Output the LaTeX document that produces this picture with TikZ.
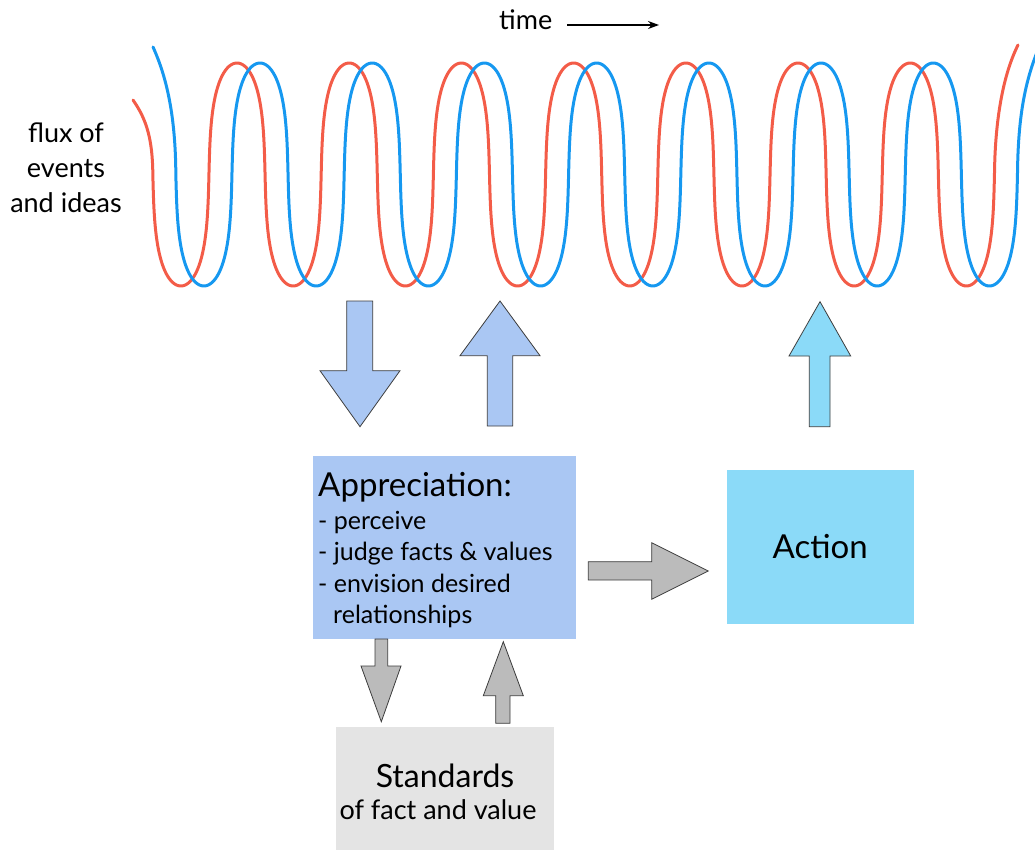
\documentclass[tikz,border=0pt]{standalone}
\usepackage{fontspec}
\setmainfont{Lato}
\usetikzlibrary{arrows.meta}

\definecolor{appblue}{RGB}{170,199,243}
\definecolor{actcyan}{RGB}{139,218,248}
\definecolor{stdgray}{RGB}{228,228,228}
\definecolor{arrgray}{RGB}{187,187,187}
\definecolor{wavered}{RGB}{243,92,72}
\definecolor{waveblue}{RGB}{22,152,240}
\definecolor{edgegray}{RGB}{60,60,60}

\newcommand{\fsz}[2]{\fontsize{#1}{#2}\selectfont}

\begin{document}
\begin{tikzpicture}[x=1pt, y=-1pt,
  wave/.style={line width=3pt, line cap=round, line join=round},
  blockarrow/.style={draw=edgegray, line width=0.8pt, line join=miter},
  box/.style={rectangle, inner sep=0pt, anchor=north west},
  txt/.style={inner sep=0pt, anchor=base west},
]
\useasboundingbox (0,0) rectangle (1035,850);

% time axis
\node[txt, font=\fsz{27}{30}] (time) at (499,30) {time};
\coordinate (timestart) at (567,25);
\coordinate (timeend) at (659,25);
\draw[line width=1.1pt, -{Stealth[length=11pt,width=8pt]}] (timestart) -- (timeend);

% left label
\node[align=center, font=\fsz{27}{35}, inner sep=0pt] (flux) at (66,168)
  {flux of\\events\\and ideas};

% two phase-shifted oscillations
\draw[wave, wavered]
  (133,100) .. controls (147,120) and (152.5,140) .. (152.84,174.5)
  -- plot[variable=\t, domain=-4.712389:42.411501, samples=900]
     ({237+17.86*(\t+0.425*sin(2*\t r))},{174.5-111.5*cos(\t r)})
  .. controls (995,120) and (1003,75) .. (1018,45);
\draw[wave, waveblue]
  (153,47) .. controls (168,80) and (175.5,120) .. (175.84,174.5)
  -- plot[variable=\t, domain=-4.712389:42.411501, samples=900]
     ({260+17.86*(\t+0.425*sin(2*\t r))},{174.5-111.5*cos(\t r)})
  .. controls (1018,120) and (1024,82) .. (1040,45);

% boxes
\node[box, fill=appblue, minimum width=263.3pt, minimum height=182.3pt] (app) at (312.7,456) {};
\node[box, fill=actcyan, minimum width=186.6pt, minimum height=153.3pt] (act) at (726.7,470) {};
\node[box, fill=stdgray, minimum width=218pt, minimum height=123.3pt] (std) at (336,726.7) {};

% appreciation text
\node[txt, font=\fsz{33}{36}] (apptitle) at (318,496) {Appreciation:};
\node[txt, font=\fsz{25}{28}] (app1) at (318,529) {- perceive};
\node[txt, font=\fsz{25}{28}] (app2) at (318,560.5) {- judge facts \& values};
\node[txt, font=\fsz{25}{28}] (app3) at (318,592) {- envision desired};
\node[txt, font=\fsz{25}{28}] (app4) at (333,623) {relationships};

\node[font=\fsz{33}{36}, inner sep=0pt] (acttext) at (act.center) {Action};

\node[anchor=base, inner sep=0pt, font=\fsz{32}{36}] (stdtitle) at (445,787) {Standards};
\node[anchor=base, inner sep=0pt, font=\fsz{27}{30}] (stdsub) at (438,819) {of fact and value};

% block arrows between flux and appreciation
\filldraw[blockarrow, fill=appblue] (346.7,301) -- (372.7,301) -- (372.7,370.7) -- (400,370.7)
  -- (360,426.7) -- (320,370.7) -- (346.7,370.7) -- cycle;
\filldraw[blockarrow, fill=appblue] (500,301) -- (540,355.7) -- (512.7,355.7) -- (512.7,426)
  -- (487.3,426) -- (487.3,355.7) -- (460,355.7) -- cycle;
% action back into the flux
\filldraw[blockarrow, fill=actcyan] (820,301.7) -- (850.7,356) -- (830,356) -- (830,426.7)
  -- (809.3,426.7) -- (809.3,356) -- (789,356) -- cycle;
% appreciation to action
\filldraw[blockarrow, fill=arrgray] (588.3,561.7) -- (651.7,561.7) -- (651.7,542.7) -- (708.3,571)
  -- (651.7,599.3) -- (651.7,580) -- (588.3,580) -- cycle;
% appreciation <-> standards
\filldraw[blockarrow, fill=arrgray] (375,639) -- (387.7,639) -- (387.7,666) -- (401,666)
  -- (381.3,721.7) -- (361,666) -- (375,666) -- cycle;
\filldraw[blockarrow, fill=arrgray] (503.3,641.7) -- (523.3,695.7) -- (510,695.7) -- (510,723.3)
  -- (495.7,723.3) -- (495.7,695.7) -- (483.3,695.7) -- cycle;
\end{tikzpicture}
\end{document}
